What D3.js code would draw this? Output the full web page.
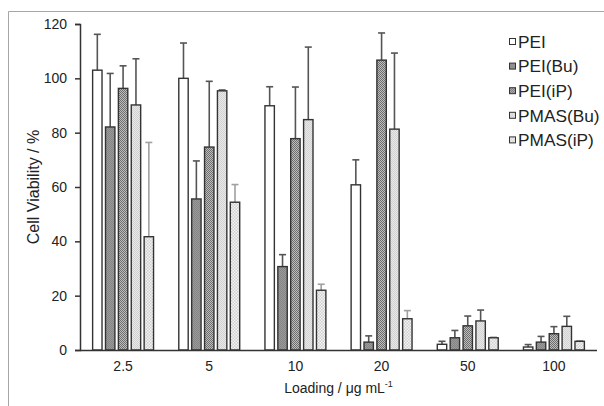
<!DOCTYPE html>
<html>
<head>
<meta charset="utf-8">
<script src="https://d3js.org/d3.v7.min.js"></script>
<style>
  body { margin: 0; background: #fff; }
  svg { display: block; font-family: "Liberation Sans", Arial, sans-serif; }
</style>
</head>
<body>
<div id="chart"></div>
<script>
// loading concentrations (x groups)
const loadings = ["2.5", "5", "10", "20", "50", "100"];
const series = ["PEI", "PEI(Bu)", "PEI(iP)", "PMAS(Bu)", "PMAS(iP)"];

// cell viability (%) per series, one value per loading
const viability = {
  "PEI":      [103.0, 100.0, 89.9, 60.8, 2.1, 1.1],
  "PEI(Bu)":  [82.1, 55.6, 30.7, 2.9, 4.5, 2.9],
  "PEI(iP)":  [96.3, 74.7, 77.8, 106.7, 8.9, 6.0],
  "PMAS(Bu)": [90.2, 95.4, 84.8, 81.3, 10.7, 8.7],
  "PMAS(iP)": [41.7, 54.4, 22.0, 11.5, 4.5, 3.2]
};
// standard deviation (drawn upward only)
const stdev = {
  "PEI":      [13.2, 13.0, 7.0, 9.2, 1.1, 0.9],
  "PEI(Bu)":  [19.7, 14.0, 4.4, 2.3, 2.7, 2.1],
  "PEI(iP)":  [8.3, 24.2, 19.0, 10.0, 3.6, 2.6],
  "PMAS(Bu)": [17.0, 0.3, 26.7, 28.0, 4.0, 3.7],
  "PMAS(iP)": [34.7, 6.5, 2.2, 3.0, 0.2, 0.2]
};
const yTicks = [0, 20, 40, 60, 80, 100, 120];

const width = 604, height = 406;
const margin = { top: 24, right: 7, bottom: 56, left: 80 };

const svg = d3.select("#chart").append("svg")
  .attr("width", width).attr("height", height);

// patterns for the fills
const defs = svg.append("defs");
function checker(id, a, b, s) {
  const p = defs.append("pattern").attr("id", id)
    .attr("patternUnits", "userSpaceOnUse")
    .attr("width", s * 2).attr("height", s * 2);
  p.append("rect").attr("width", s * 2).attr("height", s * 2).attr("fill", a);
  p.append("rect").attr("width", s).attr("height", s).attr("fill", b);
  p.append("rect").attr("x", s).attr("y", s).attr("width", s).attr("height", s).attr("fill", b);
}
checker("pBu", "#9a9a9a", "#858585", 1);
checker("pIP", "#bdbdbd", "#6e6e6e", 1);
checker("mBu", "#e8e8e8", "#d2d2d2", 1);
checker("mIP", "#f4f4f4", "#cfcfcf", 1.5);

const fills = {
  "PEI": "#ffffff",
  "PEI(Bu)": "url(#pBu)",
  "PEI(iP)": "url(#pIP)",
  "PMAS(Bu)": "url(#mBu)",
  "PMAS(iP)": "url(#mIP)"
};
const errColor = {
  "PEI": "#555", "PEI(Bu)": "#555", "PEI(iP)": "#555",
  "PMAS(Bu)": "#555", "PMAS(iP)": "#a0a0a0"
};

// chart-area frame (top and left edges visible)
svg.append("path")
  .attr("d", `M8.5,${height}V11.5H${width}`)
  .attr("fill", "none").attr("stroke", "#a6a6a6").attr("stroke-width", 1);

const x0 = d3.scaleBand().domain(loadings)
  .range([margin.left, width - margin.right]);
const x1 = d3.scaleBand().domain(series)
  .range([0, x0.bandwidth()])
  .paddingInner(0.27).paddingOuter(0.98);
const y = d3.scaleLinear().domain([0, 120])
  .range([height - margin.bottom, margin.top]);

const rows = [];
loadings.forEach((l, i) => series.forEach(s => {
  rows.push({ loading: l, series: s, v: viability[s][i], sd: stdev[s][i] });
}));

const g = svg.append("g");

// error bars (behind bars)
const eb = g.selectAll(".err").data(rows).enter().append("g")
  .attr("stroke", d => errColor[d.series]).attr("stroke-width", 1.6);
const cx = d => x0(d.loading) + x1(d.series) + x1.bandwidth() / 2;
eb.append("line")
  .attr("x1", cx).attr("x2", cx)
  .attr("y1", d => y(d.v)).attr("y2", d => y(d.v + d.sd));
eb.append("line")
  .attr("x1", d => cx(d) - 3.5).attr("x2", d => cx(d) + 3.5)
  .attr("y1", d => y(d.v + d.sd)).attr("y2", d => y(d.v + d.sd));

// bars
g.selectAll(".bar").data(rows).enter().append("rect")
  .attr("x", d => x0(d.loading) + x1(d.series))
  .attr("y", d => y(d.v))
  .attr("width", x1.bandwidth())
  .attr("height", d => y(0) - y(d.v))
  .attr("fill", d => fills[d.series])
  .attr("stroke", "#333").attr("stroke-width", 1.4);

// axes
const yAxis = svg.append("g")
  .attr("transform", `translate(${margin.left},0)`)
  .call(d3.axisLeft(y).tickValues(yTicks).tickSize(5).tickPadding(8));
const xAxis = svg.append("g")
  .attr("transform", `translate(0,${y(0)})`)
  .call(d3.axisBottom(x0).tickSize(0).tickPadding(11));
xAxis.select(".domain").attr("d", `M${margin.left},0.5H${width - margin.right}`);
[yAxis, xAxis].forEach(a => {
  a.selectAll("text").attr("font-size", 14).attr("fill", "#222")
    .attr("font-family", "Liberation Sans, Arial, sans-serif");
  a.selectAll("path, line").attr("stroke", "#333").attr("stroke-width", 1.5);
});

// axis titles
svg.append("text")
  .attr("transform", `translate(39,${(y(0) + y(120)) / 2}) rotate(-90)`)
  .attr("text-anchor", "middle").attr("font-size", 16).attr("fill", "#222")
  .text("Cell Viability / %");
const xt = svg.append("text")
  .attr("x", (margin.left + width - margin.right) / 2).attr("y", 393)
  .attr("text-anchor", "middle").attr("font-size", 14).attr("fill", "#222");
xt.append("tspan").text("Loading / μg mL");
xt.append("tspan").attr("font-size", 9).attr("dy", -6).text("-1");

// legend
const lg = svg.append("g").selectAll("g").data(series).enter().append("g")
  .attr("transform", (d, i) => `translate(509,${42 + i * 24.6})`);
lg.append("rect").attr("x", 0.5).attr("y", -3.5).attr("width", 6).attr("height", 6)
  .attr("fill", d => fills[d]).attr("stroke", "#333").attr("stroke-width", 1);
lg.append("text").attr("transform", "translate(9,0) scale(1.08,1)").attr("dy", "0.36em")
  .attr("font-size", 16).attr("fill", "#222").text(d => d);
</script>
</body>
</html>
